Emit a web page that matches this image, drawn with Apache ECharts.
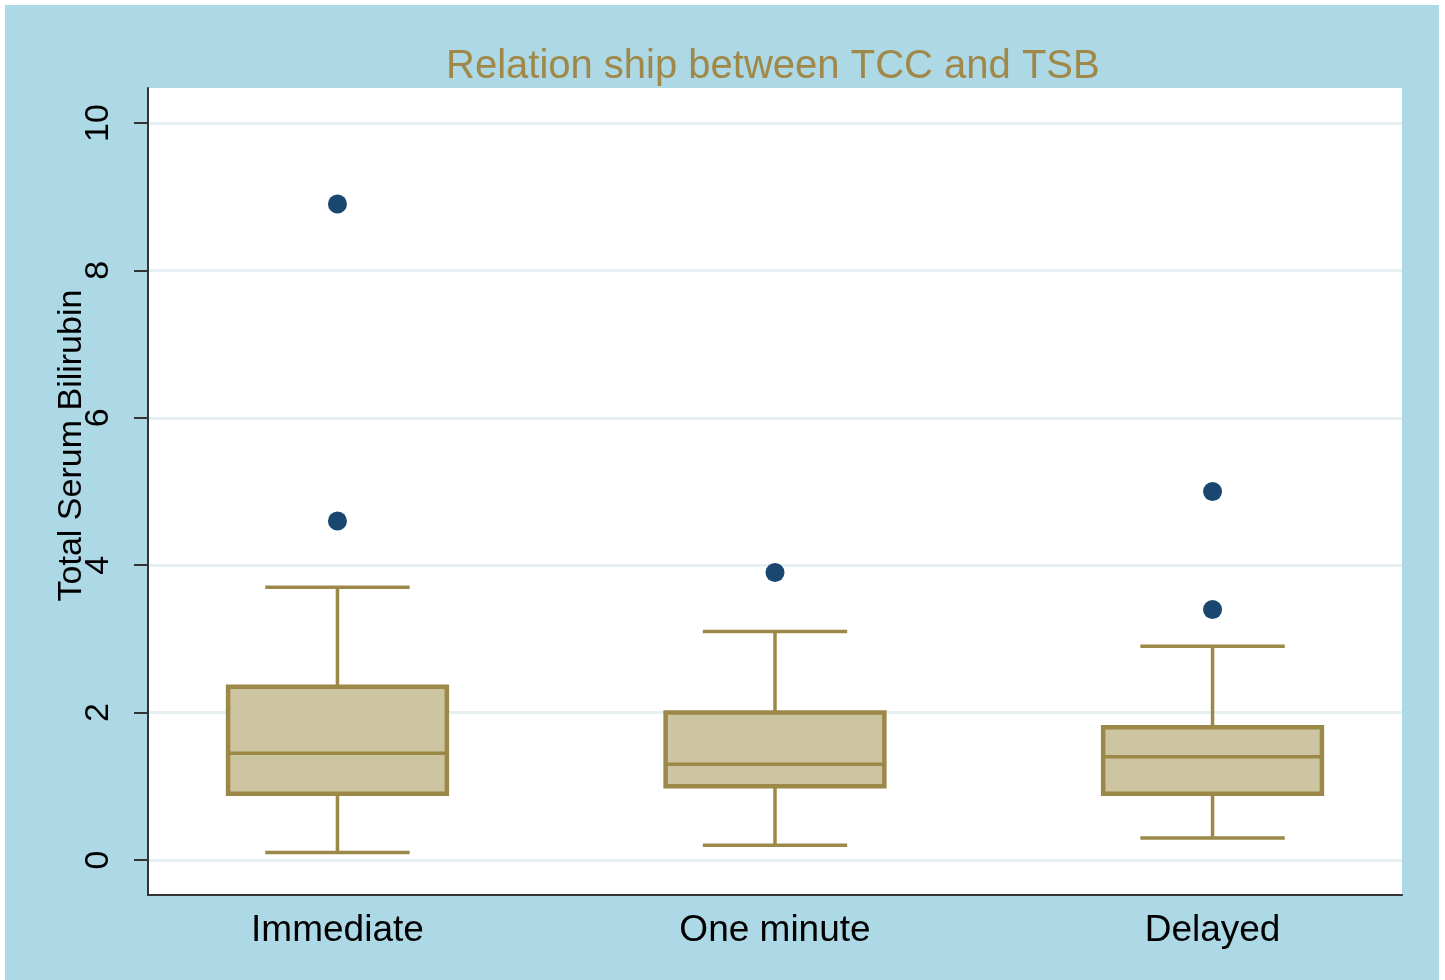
<!DOCTYPE html>
<html>
<head>
<meta charset="utf-8">
<script src="https://cdn.jsdelivr.net/npm/echarts@6/dist/echarts.min.js"></script>
<style>
  html, body { margin: 0; padding: 0; background: #ffffff; }
  #chart { position: absolute; left: 5px; top: 5px; width: 1434px; height: 975px; }
</style>
</head>
<body>
<div id="chart"></div>
<script>
// ---- data ----
const categories   = ['Immediate', 'One minute', 'Delayed'];
const lowWhisker   = [0.1, 0.2, 0.3];
const q1           = [0.9, 1.0, 0.9];
const median       = [1.45, 1.3, 1.4];
const q3           = [2.35, 2.0, 1.8];
const highWhisker  = [3.7, 3.1, 2.9];
const outliers     = [[1, 8.9], [1, 4.6], [2, 3.9], [3, 5.0], [3, 3.4]]; // [category position, value]
const yTicks       = [0, 2, 4, 6, 8, 10];
const xPositions   = [1, 2, 3];

const boxData = categories.map((c, i) => [xPositions[i], lowWhisker[i], q1[i], median[i], q3[i], highWhisker[i]]);

const BOX_FILL = '#cdc5a1';
const BOX_LINE = '#9c8847';
const BOX_HALF = 0.25;
const CAP_HALF = 0.165;
const FONT = 'Liberation Sans, Arial, sans-serif';

const chart = echarts.init(document.getElementById('chart'), null, { renderer: 'canvas' });
chart.setOption({
  backgroundColor: '#add8e6',
  animation: false,
  title: {
    text: 'Relation ship between TCC and TSB',
    left: 436,
    top: 37,
    textStyle: { color: '#a08848', fontSize: 40, fontWeight: 'normal', fontFamily: FONT }
  },
  grid: {
    left: 143, top: 83, right: 37, bottom: 85,
    show: true, backgroundColor: '#ffffff', borderWidth: 0
  },
  xAxis: {
    type: 'value',
    min: 0.567, max: 3.433,
    splitLine: { show: false },
    axisTick: { show: false },
    axisLine: { show: true, onZero: false, lineStyle: { color: '#333333', width: 2 } },
    axisLabel: {
      customValues: xPositions,
      formatter: v => categories[Math.round(v) - 1] || '',
      color: '#000000', fontSize: 37, margin: 17,
      fontFamily: FONT
    }
  },
  yAxis: {
    type: 'value',
    min: -0.475, max: 10.475,
    name: 'Total Serum Bilirubin',
    nameLocation: 'middle',
    nameRotate: 90,
    nameGap: 59,
    nameMoveOverlap: false,
    nameTextStyle: { color: '#000000', fontSize: 34, fontFamily: FONT, padding: [0, 0, 0, 92] },
    axisLine: { show: true, onZero: false, lineStyle: { color: '#333333', width: 2 } },
    axisTick: { show: true, customValues: yTicks, length: 14, lineStyle: { color: '#333333', width: 2 } },
    axisLabel: {
      customValues: yTicks, rotate: 90, margin: 32,
      color: '#000000', fontSize: 34, fontFamily: FONT
    },
    splitLine: { show: true, lineStyle: { color: '#e6f0f2', width: 3 } }
  },
  series: [
    {
      type: 'custom',
      data: boxData,
      encode: { x: 0, y: [1, 2, 3, 4, 5] },
      renderItem: function (params, api) {
        const x = api.value(0);
        const lo = api.coord([x, api.value(1)]);
        const b1 = api.coord([x, api.value(2)]);
        const md = api.coord([x, api.value(3)]);
        const b3 = api.coord([x, api.value(4)]);
        const hi = api.coord([x, api.value(5)]);
        const left = api.coord([x - BOX_HALF, 0])[0];
        const right = api.coord([x + BOX_HALF, 0])[0];
        const cl = api.coord([x - CAP_HALF, 0])[0];
        const cr = api.coord([x + CAP_HALF, 0])[0];
        const ls = { stroke: BOX_LINE, lineWidth: 3.5 };
        return {
          type: 'group',
          children: [
            { type: 'line', shape: { x1: lo[0], y1: lo[1], x2: b1[0], y2: b1[1] }, style: ls },
            { type: 'line', shape: { x1: b3[0], y1: b3[1], x2: hi[0], y2: hi[1] }, style: ls },
            { type: 'line', shape: { x1: cl, y1: lo[1], x2: cr, y2: lo[1] }, style: ls },
            { type: 'line', shape: { x1: cl, y1: hi[1], x2: cr, y2: hi[1] }, style: ls },
            { type: 'rect', shape: { x: left, y: b3[1], width: right - left, height: b1[1] - b3[1] },
              style: { fill: BOX_FILL, stroke: BOX_LINE, lineWidth: 4.5 } },
            { type: 'line', shape: { x1: left, y1: md[1], x2: right, y2: md[1] }, style: ls }
          ]
        };
      },
      z: 3
    },
    {
      type: 'scatter',
      data: outliers,
      symbol: 'circle',
      symbolSize: 19,
      itemStyle: { color: '#1a476f', opacity: 1 },
      z: 4
    }
  ]
});
</script>
</body>
</html>
